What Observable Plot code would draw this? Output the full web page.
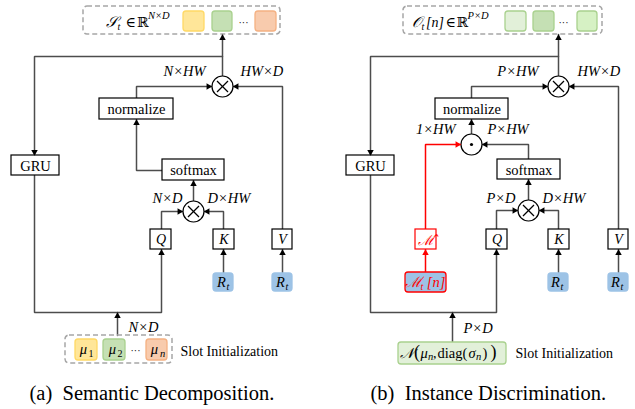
<!DOCTYPE html>
<html><head><meta charset="utf-8">
<script src="https://cdn.jsdelivr.net/npm/d3@7"></script>
<script src="https://cdn.jsdelivr.net/npm/@observablehq/plot@0.6"></script>
<style>body{margin:0;background:#fff} svg text{font-family:"Liberation Serif","Times New Roman","DejaVu Serif",serif !important}</style>
</head><body><div id="chart"></div>
<script>
// ---- diagram data (layout in pixel space of the 635x409 figure) ----
const plainBoxes = [
  // (a)
  {x1:99,y1:98,x2:173,y2:119,s:"#000"},   // normalize
  {x1:11,y1:155,x2:59,y2:175,s:"#000"},   // GRU
  {x1:162,y1:159,x2:224,y2:180,s:"#000"}, // softmax
  {x1:150,y1:229,x2:171,y2:249,s:"#000"}, // Q
  {x1:213,y1:229,x2:234,y2:249,s:"#000"}, // K
  {x1:272,y1:229,x2:292,y2:249,s:"#000"}, // V
  // (b)
  {x1:435,y1:98,x2:508,y2:119,s:"#000"},
  {x1:346,y1:155,x2:394,y2:175,s:"#000"},
  {x1:497,y1:159,x2:560,y2:179,s:"#000"},
  {x1:486,y1:229,x2:507,y2:249,s:"#000"},
  {x1:548,y1:229,x2:569,y2:249,s:"#000"},
  {x1:608,y1:229,x2:628,y2:249,s:"#000"},
  {x1:415,y1:229,x2:436,y2:249,s:"#ff0000"} // M hat
];
const dashedBoxes = [
  {x1:83,y1:6,x2:280,y2:34},
  {x1:65,y1:335,x2:172,y2:363},
  {x1:403,y1:6,x2:602,y2:34}
];
const swatches = [
  {x1:183,y1:11,x2:204,y2:31,f:"#ffe699",s:"#ffd966"},
  {x1:212,y1:11,x2:232,y2:31,f:"#c5e0b4",s:"#a9d18e"},
  {x1:255,y1:11,x2:276,y2:31,f:"#f8cbad",s:"#f4b183"},
  {x1:75,y1:339,x2:97,y2:360,f:"#ffe699",s:"#ffd966"},
  {x1:103,y1:339,x2:125,y2:360,f:"#c5e0b4",s:"#a9d18e"},
  {x1:146,y1:339,x2:167,y2:360,f:"#f8cbad",s:"#f4b183"},
  {x1:213,y1:273,x2:233,y2:291,f:"#9dc3e6",s:"#9dc3e6"},
  {x1:272,y1:273,x2:292,y2:291,f:"#9dc3e6",s:"#9dc3e6"},
  {x1:505,y1:11,x2:526,y2:31,f:"#e2f0d9",s:"#a9d18e"},
  {x1:533,y1:11,x2:554,y2:31,f:"#c5e0b4",s:"#a9d18e"},
  {x1:577,y1:11,x2:597,y2:31,f:"#d6f1c4",s:"#a9d18e"},
  {x1:548,y1:273,x2:568,y2:291,f:"#9dc3e6",s:"#9dc3e6"},
  {x1:608,y1:273,x2:628,y2:291,f:"#9dc3e6",s:"#9dc3e6"},
  {x1:405,y1:272,x2:446,y2:292,f:"#9dc3e6",s:"#ff0000"},
  {x1:398,y1:342,x2:506,y2:364,f:"#e2f0d9",s:"#a9d18e"}
];
const ops = [
  {x:222,y:86,op:"times"},{x:193,y:211,op:"times"},
  {x:558,y:86,op:"times"},{x:471,y:144,op:"dot"},{x:528,y:210,op:"times"}
];
const G = "#4d4d4d", RED = "#ff0000";
const paths = [
  // (a)
  {pts:[[222,75.5],[222,34]],c:G},
  {pts:[[222,56],[34,56],[34,155]],c:G},
  {pts:[[34,175],[34,312],[161,312],[161,249]],c:G},
  {pts:[[117,335],[117,312]],c:G},
  {pts:[[136,98],[136,86],[211.5,86]],c:G},
  {pts:[[282,229],[282,86],[232.5,86]],c:G},
  {pts:[[162,170],[136,170],[136,119]],c:G},
  {pts:[[193,200.5],[193,180]],c:G},
  {pts:[[161,229],[161,211],[182.5,211]],c:G},
  {pts:[[223,229],[223,211],[203.5,211]],c:G},
  {pts:[[223,273],[223,249]],c:G},
  {pts:[[282,273],[282,249]],c:G},
  // (b)
  {pts:[[558,75.5],[558,34]],c:G},
  {pts:[[558,56],[370,56],[370,155]],c:G},
  {pts:[[370,175],[370,312],[496,312],[496,249]],c:G},
  {pts:[[452,342],[452,312]],c:G},
  {pts:[[471,98],[471,86],[547.5,86]],c:G},
  {pts:[[618,229],[618,86],[568.5,86]],c:G},
  {pts:[[471,133.5],[471,119]],c:G},
  {pts:[[425,229],[425,144],[460.5,144]],c:RED},
  {pts:[[528,159],[528,144],[481.5,144]],c:G},
  {pts:[[528,199.5],[528,179]],c:G},
  {pts:[[496,229],[496,210],[517.5,210]],c:G},
  {pts:[[558,229],[558,210],[538.5,210]],c:G},
  {pts:[[558,273],[558,249]],c:G},
  {pts:[[618,273],[618,249]],c:G},
  {pts:[[425,272],[425,249]],c:RED}
];
const plainText = [
  {x:136,y:108.5,t:"normalize",s:14.5,a:"middle",c:"#000"},
  {x:35,y:165.5,t:"GRU",s:14.5,a:"middle",c:"#000"},
  {x:193,y:169.5,t:"softmax",s:14.5,a:"middle",c:"#000"},
  {x:180,y:351,t:"Slot Initialization",s:14,a:"start",c:"#000"},
  {x:29,y:393,t:"(a)  Semantic Decomposition.",s:20.5,a:"start",c:"#000"},
  {x:125,y:22,t:"∈",s:14,a:"start",c:"#000"},
  {x:136.5,y:22,t:"ℝ",s:14,a:"start",c:"#000"},
  {x:243,y:22,t:"···",s:10,a:"middle",c:"#000"},
  {x:135,y:350,t:"···",s:10,a:"middle",c:"#000"},
  {x:90.5,y:353,t:"1",s:10,a:"middle",c:"#000"},
  {x:119.5,y:353,t:"2",s:10,a:"middle",c:"#000"},
  {x:471.5,y:108.5,t:"normalize",s:14.5,a:"middle",c:"#000"},
  {x:370,y:165.5,t:"GRU",s:14.5,a:"middle",c:"#000"},
  {x:528.5,y:169.5,t:"softmax",s:14.5,a:"middle",c:"#000"},
  {x:515,y:353,t:"Slot Initialization",s:14,a:"start",c:"#000"},
  {x:370,y:393,t:"(b)  Instance Discrimination.",s:20.5,a:"start",c:"#000"},
  {x:445,y:22,t:"∈",s:14,a:"start",c:"#000"},
  {x:456,y:22,t:"ℝ",s:14,a:"start",c:"#000"},
  {x:563,y:22,t:"···",s:10,a:"middle",c:"#000"},
  {x:413.5,y:352,t:"(",s:18,a:"start",c:"#000"},
  {x:432.5,y:353,t:",",s:14,a:"start",c:"#000"},
  {x:437,y:353,t:"diag(",s:14.5,a:"start",c:"#000"},
  {x:482,y:353,t:")",s:14.5,a:"start",c:"#000"},
  {x:490,y:352,t:")",s:18,a:"start",c:"#000"}
];
const mathText = [
  {x:205,y:71,t:"N×HW",s:14.5,a:"end",c:"#000"},
  {x:240,y:71,t:"HW×D",s:14.5,a:"start",c:"#000"},
  {x:182,y:198,t:"N×D",s:14.5,a:"end",c:"#000"},
  {x:207,y:198,t:"D×HW",s:14.5,a:"start",c:"#000"},
  {x:128,y:327,t:"N×D",s:14.5,a:"start",c:"#000"},
  {x:160.5,y:239,t:"Q",s:14,a:"middle",c:"#000"},
  {x:223.5,y:239,t:"K",s:14,a:"middle",c:"#000"},
  {x:282,y:239,t:"V",s:14,a:"middle",c:"#000"},
  {x:221,y:282,t:"R",s:14.5,a:"middle",c:"#000"},
  {x:227.5,y:286,t:"t",s:10,a:"middle",c:"#000"},
  {x:280,y:282,t:"R",s:14.5,a:"middle",c:"#000"},
  {x:286.5,y:286,t:"t",s:10,a:"middle",c:"#000"},
  {x:105,y:22,t:"𝒮",s:15,a:"start",c:"#000"},
  {x:117,y:26,t:"t",s:10,a:"start",c:"#000"},
  {x:147.5,y:15,t:"N×D",s:10.5,a:"start",c:"#000"},
  {x:83,y:349,t:"μ",s:14.5,a:"middle",c:"#000"},
  {x:112,y:349,t:"μ",s:14.5,a:"middle",c:"#000"},
  {x:154,y:349,t:"μ",s:14.5,a:"middle",c:"#000"},
  {x:162,y:353,t:"n",s:10.5,a:"middle",c:"#000"},
  {x:538,y:71,t:"P×HW",s:14.5,a:"end",c:"#000"},
  {x:577,y:71,t:"HW×D",s:14.5,a:"start",c:"#000"},
  {x:455,y:129,t:"1×HW",s:14.5,a:"end",c:"#000"},
  {x:487,y:129,t:"P×HW",s:14.5,a:"start",c:"#000"},
  {x:515,y:198,t:"P×D",s:14.5,a:"end",c:"#000"},
  {x:542,y:198,t:"D×HW",s:14.5,a:"start",c:"#000"},
  {x:463,y:328,t:"P×D",s:14.5,a:"start",c:"#000"},
  {x:496.5,y:239,t:"Q",s:14,a:"middle",c:"#000"},
  {x:558.5,y:239,t:"K",s:14,a:"middle",c:"#000"},
  {x:618,y:239,t:"V",s:14,a:"middle",c:"#000"},
  {x:555,y:282,t:"R",s:14.5,a:"middle",c:"#000"},
  {x:561.5,y:286,t:"t",s:10,a:"middle",c:"#000"},
  {x:615,y:282,t:"R",s:14.5,a:"middle",c:"#000"},
  {x:621.5,y:286,t:"t",s:10,a:"middle",c:"#000"},
  {x:425.5,y:240,t:"ℳ\u0302",s:14,a:"middle",c:RED},
  {x:413,y:282,t:"ℳ",s:14.5,a:"middle",c:RED},
  {x:421.5,y:286,t:"t",s:10,a:"middle",c:RED},
  {x:435.5,y:282,t:"[n]",s:14.5,a:"middle",c:RED},
  {x:411,y:22,t:"𝒪",s:15,a:"start",c:"#000"},
  {x:421,y:26,t:"t",s:10,a:"start",c:"#000"},
  {x:425.5,y:22,t:"[n]",s:14,a:"start",c:"#000"},
  {x:467,y:15,t:"P×D",s:10.5,a:"start",c:"#000"},
  {x:399,y:353,t:"𝒩",s:14.5,a:"start",c:"#000"},
  {x:420,y:353,t:"μ",s:14.5,a:"start",c:"#000"},
  {x:427.5,y:356,t:"n",s:10.5,a:"start",c:"#000"},
  {x:468,y:353,t:"σ",s:14.5,a:"start",c:"#000"},
  {x:475.5,y:356,t:"n",s:10.5,a:"start",c:"#000"}
];

// ---- derived mark data ----
const lineRows = paths.flatMap((p, i) => p.pts.map(([x, y]) => ({id: i, x, y, c: p.c})));
const heads = paths.map(p => {
  const n = p.pts.length, [x1, y1] = p.pts[n - 2], [x2, y2] = p.pts[n - 1];
  const L = Math.hypot(x2 - x1, y2 - y1), dx = (x2 - x1) / L, dy = (y2 - y1) / L;
  return {x: x2 - dx * 3.6, y: y2 - dy * 3.6, r: Math.atan2(dx, -dy) * 180 / Math.PI, c: p.c === RED ? RED : "#000"};
});
const crosses = ops.filter(d => d.op === "times").flatMap(d => [
  {x1: d.x - 5.5, y1: d.y - 5.5, x2: d.x + 5.5, y2: d.y + 5.5},
  {x1: d.x - 5.5, y1: d.y + 5.5, x2: d.x + 5.5, y2: d.y - 5.5}
]);
const dots = ops.filter(d => d.op === "dot");

const serif = "Liberation Serif";
const textMarks = [];
for (const [arr, style] of [[plainText, "normal"], [mathText, "italic"]]) {
  for (const a of ["start", "middle", "end"]) {
    textMarks.push(Plot.text(arr.filter(d => d.a === a), {
      x: "x", y: "y", text: "t", fontSize: "s", fill: "c",
      textAnchor: a, fontFamily: serif, fontStyle: style
    }));
  }
}

const chart = Plot.plot({
  width: 635, height: 409,
  margin: 0,
  x: {domain: [0, 635], range: [0, 635], axis: null},
  y: {domain: [0, 409], range: [0, 409], axis: null},
  color: {type: "identity"},
  style: {background: "#fff", fontFamily: serif},
  marks: [
    Plot.line(lineRows, {x: "x", y: "y", z: "id", stroke: "c", strokeWidth: 1.5, strokeLinejoin: "miter"}),
    Plot.rect(dashedBoxes, {x1: "x1", x2: "x2", y1: "y1", y2: "y2", fill: "none", stroke: "#a6a6a6", strokeWidth: 1.5, strokeDasharray: "5,3", rx: 4}),
    Plot.rect(plainBoxes, {x1: "x1", x2: "x2", y1: "y1", y2: "y2", fill: "#fff", stroke: "s", strokeWidth: 1.2}),
    Plot.rect(swatches, {x1: "x1", x2: "x2", y1: "y1", y2: "y2", fill: "f", stroke: "s", strokeWidth: 1.3, rx: 3}),
    Plot.dot(ops, {x: "x", y: "y", r: 10.5, fill: "#fff", stroke: "#000", strokeWidth: 1.2}),
    Plot.link(crosses, {x1: "x1", y1: "y1", x2: "x2", y2: "y2", stroke: "#000", strokeWidth: 1.3}),
    Plot.dot(dots, {x: "x", y: "y", r: 1.6, fill: "#000"}),
    Plot.dot(heads, {x: "x", y: "y", rotate: "r", symbol: "triangle", r: 2.4, fill: "c", stroke: "none"}),
    ...textMarks
  ]
});
document.getElementById("chart").appendChild(chart);
</script></body></html>
